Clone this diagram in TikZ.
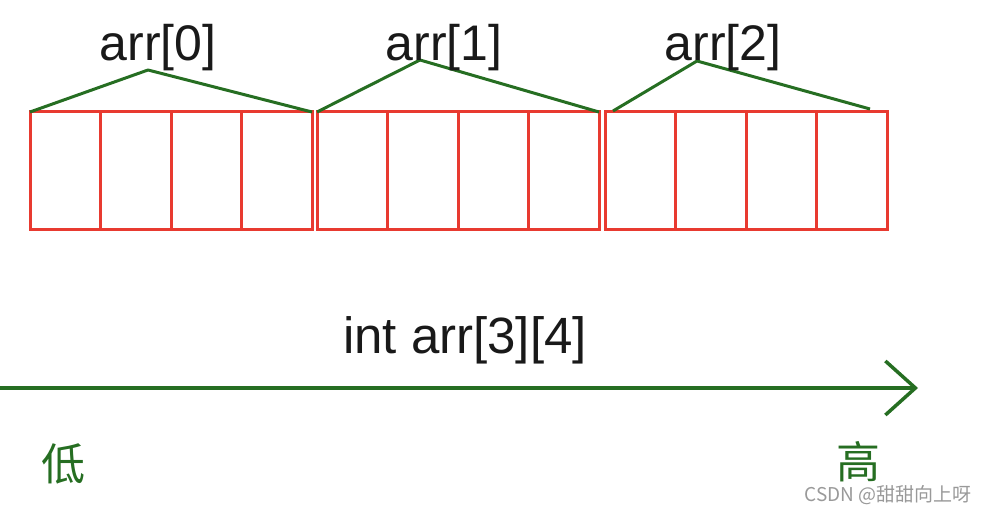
\documentclass[tikz,border=0pt]{standalone}
\usepackage{fontspec}
\setmainfont{Liberation Sans}
\newfontfamily\cjk{Noto Sans CJK SC}
\usepackage{xcolor}
\usetikzlibrary{arrows.meta,positioning}
\definecolor{cellred}{RGB}{232,58,48}
\definecolor{spangreen}{RGB}{38,110,34}

\begin{document}
\begin{tikzpicture}[
  x=1pt, y=-1pt,
  cell/.style  = {draw=cellred, line width=3pt, minimum width=70.5pt,
                  minimum height=118pt, inner sep=0pt, outer sep=0pt},
  span/.style  = {draw=spangreen, line width=3pt, line join=round},
  axis/.style  = {-{Straight Barb[length=30pt,width=54pt]}, draw=spangreen,
                  line width=3.5pt},
  lbl/.style   = {font=\fontsize{50}{52}\selectfont, text=black!90,
                  inner sep=0pt, anchor=base},
  hilo/.style  = {font=\cjk\fontsize{44}{46}\selectfont, text=spangreen,
                  inner sep=0pt},
  wmark/.style = {font=\cjk\fontsize{19}{21}\selectfont, text=black!40,
                  inner sep=0pt}
]
\useasboundingbox (0,0) rectangle (990,510);

%%%%%%%%%%%%%%%%%%%%%%% ROW arr[0] %%%%%%%%%%%%%%%%%%%%%%%%%%%%%%%%%
\node[cell] (c00) at (65.25,171) {};
\node[cell, right=0pt of c00] (c01) {};
\node[cell, right=0pt of c01] (c02) {};
\node[cell, right=0pt of c02] (c03) {};
\coordinate (p0) at (148,70);
\draw[span] (c00.north west) -- (p0) -- (c03.north east);
\node[lbl] (r0) at (158,61) {arr[0]};

%%%%%%%%%%%%%%%%%%%%%%% ROW arr[1] %%%%%%%%%%%%%%%%%%%%%%%%%%%%%%%%%
\node[cell] (c10) at (352.25,171) {};
\node[cell, right=0pt of c10] (c11) {};
\node[cell, right=0pt of c11] (c12) {};
\node[cell, right=0pt of c12] (c13) {};
\coordinate (p1) at (420,60);
\draw[span] (c10.north west) -- (p1) -- (c13.north east);
\node[lbl] (r1) at (444,61) {arr[1]};

%%%%%%%%%%%%%%%%%%%%%%% ROW arr[2] %%%%%%%%%%%%%%%%%%%%%%%%%%%%%%%%%
\node[cell] (c20) at (640.25,171) {};
\node[cell, right=0pt of c20] (c21) {};
\node[cell, right=0pt of c21] (c22) {};
\node[cell, right=0pt of c22] (c23) {};
\coordinate (p2) at (697,61);
\draw[span] ([xshift=8pt,yshift=1pt]c20.north west) -- (p2)
            -- ([xshift=-17pt,yshift=3pt]c23.north east);
\node[lbl] (r2) at (723,61) {arr[2]};

%%%%%%%%%%%%%%%%%%%%%%% ADDRESS AXIS %%%%%%%%%%%%%%%%%%%%%%%%%%%%%%%
\node[lbl, font=\fontsize{51}{53}\selectfont] (decl) at (465,353) {int arr[3][4]};
\coordinate (lo) at (0,388);
\coordinate (hi) at (918,388);
\draw[axis] (lo) -- (hi);
\node[hilo] (low)  at (63,464) {低};
\node[hilo] (high) at (858,462) {高};

\node[wmark] (wm) at (888,495) {CSDN @甜甜向上呀};

\end{tikzpicture}
\end{document}
